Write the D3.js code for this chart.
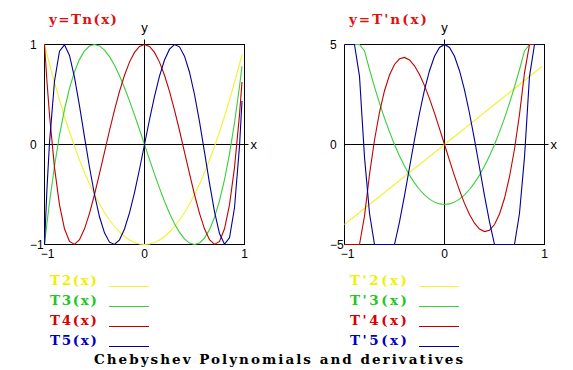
<!DOCTYPE html>
<html><head><meta charset="utf-8">
<script src="https://cdn.jsdelivr.net/npm/d3@7"></script>
<style>html,body{margin:0;padding:0;background:#fff;}svg{display:block;}</style>
</head><body>
<script>
// sample abscissae
const xs = [-1,-0.975,-0.95,-0.9,-0.85,-0.8,-0.75,-0.7,-0.65,-0.6,-0.55,-0.5,-0.45,-0.4,-0.35,-0.3,-0.25,-0.2,-0.15,-0.1,-0.05,0,0.05,0.1,0.15,0.2,0.25,0.3,0.35,0.4,0.45,0.5,0.55,0.6,0.65,0.7,0.75,0.8,0.85,0.9,0.95,0.975];
// Tn(x)
const T2 = [1,0.901,0.805,0.62,0.445,0.28,0.125,-0.02,-0.155,-0.28,-0.395,-0.5,-0.595,-0.68,-0.755,-0.82,-0.875,-0.92,-0.955,-0.98,-0.995,-1,-0.995,-0.98,-0.955,-0.92,-0.875,-0.82,-0.755,-0.68,-0.595,-0.5,-0.395,-0.28,-0.155,-0.02,0.125,0.28,0.445,0.62,0.805,0.901];
const T3 = [-1,-0.7824,-0.5795,-0.216,0.0935,0.352,0.5625,0.728,0.8515,0.936,0.9845,1,0.9855,0.944,0.8785,0.792,0.6875,0.568,0.4365,0.296,0.1495,0,-0.1495,-0.296,-0.4365,-0.568,-0.6875,-0.792,-0.8785,-0.944,-0.9855,-1,-0.9845,-0.936,-0.8515,-0.728,-0.5625,-0.352,-0.0935,0.216,0.5795,0.7824];
const T4 = [1,0.6245,0.296,-0.2312,-0.604,-0.8432,-0.9688,-0.9992,-0.952,-0.8432,-0.688,-0.5,-0.292,-0.0752,0.14,0.3448,0.5313,0.6928,0.824,0.9208,0.98,1,0.98,0.9208,0.824,0.6928,0.5313,0.3448,0.14,-0.0752,-0.292,-0.5,-0.688,-0.8432,-0.952,-0.9992,-0.9688,-0.8432,-0.604,-0.2312,0.296,0.6245];
const T5 = [-1,-0.4354,0.017,0.6322,0.9332,0.9971,0.8906,0.6709,0.386,0.0758,-0.2278,-0.5,-0.7227,-0.8838,-0.9765,-0.9989,-0.9531,-0.8451,-0.6837,-0.4802,-0.2475,0,0.2475,0.4802,0.6837,0.8451,0.9531,0.9989,0.9765,0.8838,0.7227,0.5,0.2278,-0.0758,-0.386,-0.6709,-0.8906,-0.9971,-0.9332,-0.6322,-0.017,0.4354];
// T'n(x)
const dT2 = [-4,-3.9,-3.8,-3.6,-3.4,-3.2,-3,-2.8,-2.6,-2.4,-2.2,-2,-1.8,-1.6,-1.4,-1.2,-1,-0.8,-0.6,-0.4,-0.2,0,0.2,0.4,0.6,0.8,1,1.2,1.4,1.6,1.8,2,2.2,2.4,2.6,2.8,3,3.2,3.4,3.6,3.8,3.9];
const dT3 = [9,8.4075,7.83,6.72,5.67,4.68,3.75,2.88,2.07,1.32,0.63,0,-0.57,-1.08,-1.53,-1.92,-2.25,-2.52,-2.73,-2.88,-2.97,-3,-2.97,-2.88,-2.73,-2.52,-2.25,-1.92,-1.53,-1.08,-0.57,0,0.63,1.32,2.07,2.88,3.75,4.68,5.67,6.72,7.83,8.4075];
const dT4 = [-16,-14.06,-12.236,-8.928,-6.052,-3.584,-1.5,0.224,1.612,2.688,3.476,4,4.284,4.352,4.228,3.936,3.5,2.944,2.292,1.568,0.796,0,-0.796,-1.568,-2.292,-2.944,-3.5,-3.936,-4.228,-4.352,-4.284,-4,-3.476,-2.688,-1.612,-0.224,1.5,3.584,6.052,8.928,12.236,14.06];
const dT5 = [25,20.26,16.01,8.888,3.41,-0.632,-3.4375,-5.192,-6.07,-6.232,-5.83,-5,-3.87,-2.552,-1.15,0.248,1.5625,2.728,3.69,4.408,4.85,5,4.85,4.408,3.69,2.728,1.5625,0.248,-1.15,-2.552,-3.87,-5,-5.83,-6.232,-6.07,-5.192,-3.4375,-0.632,3.41,8.888,16.01,20.26];

const leftLabels = ["T2(x)","T3(x)","T4(x)","T5(x)"];
const rightLabels = ["T'2(x)","T'3(x)","T'4(x)","T'5(x)"];
const xTickLabels = ["\u22121","0","1"];
const xTickValues = [-1,0,1];
const leftYTicks = [1,0,-1];
const leftYTickLabels = ["1","0","\u22121"];
const rightYTicks = [5,0,-5];
const rightYTickLabels = ["5","0","\u22125"];
const curveColors = ["#f2f230","#38d038","#c00000","#000096"];
const legendTextColors = ["#f0f000","#20c820","#d80000","#0000c0"];

const W = 573, H = 370;
const svg = d3.select("body").append("svg").attr("width", W).attr("height", H)
  .style("background", "#fff");

const SLAB = "'DejaVu Serif',serif";
const SANS = "'Liberation Sans',Arial,sans-serif";

function slabText(x, y, str, len, color) {
  return svg.append("text").attr("x", x).attr("y", y).attr("font-family", SLAB)
    .attr("font-weight", "bold").attr("font-size", 13.5).attr("fill", color)
    .attr("textLength", len).attr("lengthAdjust", "spacing").text(str);
}

function panel(x0, yDom, series, title, titleLen, yTicks, yTickLabels) {
  const x = d3.scaleLinear().domain([-1, 1]).range([x0 + 0.5, x0 + 200.5]);
  const y = d3.scaleLinear().domain(yDom).range([244.5, 44.5]).clamp(true);
  const g = svg.append("g");

  // frame
  g.append("rect").attr("x", x(-1)).attr("y", y(yDom[1])).attr("width", x(1) - x(-1))
    .attr("height", y(yDom[0]) - y(yDom[1])).attr("fill", "none").attr("stroke", "#000");
  // axes through zero
  g.append("line").attr("x1", x(-1)).attr("x2", x(1) + 4).attr("y1", y(0)).attr("y2", y(0)).attr("stroke", "#000");
  g.append("line").attr("x1", x(0)).attr("x2", x(0)).attr("y1", y(yDom[1]) - 5).attr("y2", y(yDom[0])).attr("stroke", "#000");

  // curves
  series.forEach((s, i) => {
    const line = d3.line().x((d, j) => x(xs[j])).y(d => y(d)).curve(d3.curveLinear);
    g.append("path").attr("d", line(s)).attr("fill", "none")
      .attr("stroke", curveColors[i]).attr("stroke-width", 1.1);
  });

  // y tick labels
  yTicks.forEach((v, i) => {
    g.append("text").attr("x", x0 - 14).attr("y", y(v) + 4).attr("font-family", SANS)
      .attr("font-size", 12).attr("fill", "#000").text(yTickLabels[i]);
  });
  // x tick labels
  xTickValues.forEach((v, i) => {
    g.append("text").attr("x", x(v) + (v === -1 ? 3 : 0)).attr("y", 258).attr("text-anchor", "middle")
      .attr("font-family", SANS).attr("font-size", 12).attr("fill", "#000").text(xTickLabels[i]);
  });
  // axis names
  g.append("text").attr("x", x(0)).attr("y", 32).attr("text-anchor", "middle").attr("font-family", SANS)
    .attr("font-size", 13).text("y");
  g.append("text").attr("x", x(1) + 6).attr("y", y(0) + 4).attr("font-family", SANS)
    .attr("font-size", 13).text("x");
  // title
  slabText(x0 + 5, 24, title, titleLen, "#e01010");
}

panel(44, [-1, 1], [T2, T3, T4, T5], "y=Tn(x)", 68, leftYTicks, leftYTickLabels);
panel(344, [-5, 5], [dT2, dT3, dT4, dT5], "y=T'n(x)", 78, rightYTicks, rightYTickLabels);

function legend(x0, labels, len, lineOff) {
  labels.forEach((lab, i) => {
    slabText(x0, 285 + 20 * i, lab, len, legendTextColors[i]);
    svg.append("line").attr("x1", x0 + lineOff).attr("x2", x0 + lineOff + 40)
      .attr("y1", 286.5 + 20 * i).attr("y2", 286.5 + 20 * i)
      .attr("stroke", curveColors[i]).attr("stroke-width", 1.1);
  });
}
legend(50, leftLabels, 47, 59);
legend(350, rightLabels, 57, 69);

slabText(94, 364, "Chebyshev Polynomials and derivatives", 369, "#000");
</script>
</body></html>
